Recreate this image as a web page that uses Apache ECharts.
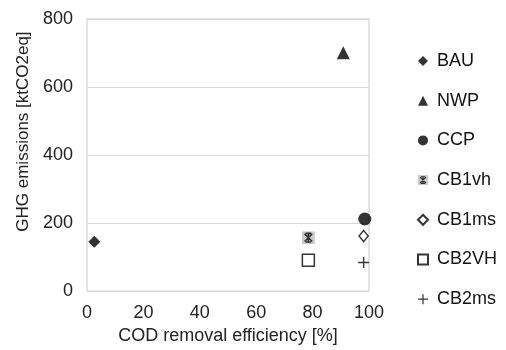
<!DOCTYPE html>
<html>
<head>
<meta charset="utf-8">
<script src="https://cdn.jsdelivr.net/npm/echarts@6/dist/echarts.min.js"></script>
<style>
  html, body { margin: 0; padding: 0; background: #fff; }
  #chart { width: 506px; height: 350px; }
</style>
</head>
<body>
<div id="chart"></div>
<script>
// scenario names, COD removal efficiency [%] and GHG emissions [ktCO2eq]
var scenarios = ['BAU', 'NWP', 'CCP', 'CB1vh', 'CB1ms', 'CB2VH', 'CB2ms'];
var efficiency = [2.6, 90.9, 98.5, 78.5, 98.1, 78.5, 98.1];
var emissions = [145, 701, 212, 157, 162, 91, 84];

// gray box with an asterisk for CB1vh
var starBox = 'image://data:image/svg+xml;utf8,' + encodeURIComponent(
  '<svg xmlns="http://www.w3.org/2000/svg" width="12" height="12" viewBox="0 0 12 12">' +
  '<rect x="0" y="0" width="12" height="12" fill="#bcbcbc"/>' +
  '<path d="M2.5,2.5L9.5,9.5M9.5,2.5L2.5,9.5M6,1.5L6,10.5M3.5,2L8.5,2M3.5,10L8.5,10" stroke="#000" stroke-width="1.4" fill="none"/>' +
  '</svg>');
var plus = 'path://M4.4,0H5.6V4.4H10V5.6H5.6V10H4.4V5.6H0V4.4H4.4Z';

var marks = [
  { symbol: 'diamond', size: 12, style: { color: '#000' } },
  { symbol: 'triangle', size: 13, style: { color: '#000' } },
  { symbol: 'circle', size: 13, style: { color: '#000' } },
  { symbol: starBox, size: 13, style: { color: '#bcbcbc' } },
  { symbol: 'diamond', size: [9, 11], style: { color: '#fff', borderColor: '#000', borderWidth: 1.5 } },
  { symbol: 'rect', size: 12, style: { color: '#fff', borderColor: '#000', borderWidth: 1.5 } },
  { symbol: plus, size: 11, style: { color: '#000' } }
];

var series = scenarios.map(function (name, i) {
  return {
    name: name,
    type: 'scatter',
    symbol: marks[i].symbol,
    symbolSize: marks[i].size,
    itemStyle: marks[i].style,
    data: [[efficiency[i], emissions[i]]]
  };
});

var myChart = echarts.init(document.getElementById('chart'));
var option = {
  animation: false,
  textStyle: { fontFamily: 'Liberation Sans, Arial, sans-serif' },
  grid: {
    left: 87, right: 137, top: 19, bottom: 56,
    show: true, borderColor: '#c8c8c8', borderWidth: 1
  },
  legend: {
    orient: 'vertical',
    left: 412,
    top: 47,
    itemWidth: 10,
    itemHeight: 10,
    itemGap: 21.7,
    textStyle: { fontSize: 18, color: '#111', padding: [0, 0, 0, 4] },
    data: scenarios
  },
  xAxis: {
    type: 'value',
    min: 0, max: 100, interval: 20,
    name: 'COD removal efficiency [%]',
    nameLocation: 'middle',
    nameGap: 27,
    nameTextStyle: { fontSize: 18, color: '#222' },
    axisLine: { show: false },
    axisTick: { show: false },
    splitLine: { show: false },
    axisLabel: { fontSize: 18, color: '#222', margin: 13 }
  },
  yAxis: {
    type: 'value',
    min: 0, max: 800, interval: 200,
    name: 'GHG emissions [ktCO2eq]',
    nameLocation: 'middle',
    nameGap: 55,
    nameTextStyle: { fontSize: 17, color: '#222', padding: [0, 0, 0, 47] },
    axisLine: { show: false },
    axisTick: { show: false },
    splitLine: { lineStyle: { color: '#d6d6d6', width: 1 } },
    axisLabel: { fontSize: 18, color: '#222', margin: 14 }
  },
  series: series
};
myChart.setOption(option);
</script>
</body>
</html>
